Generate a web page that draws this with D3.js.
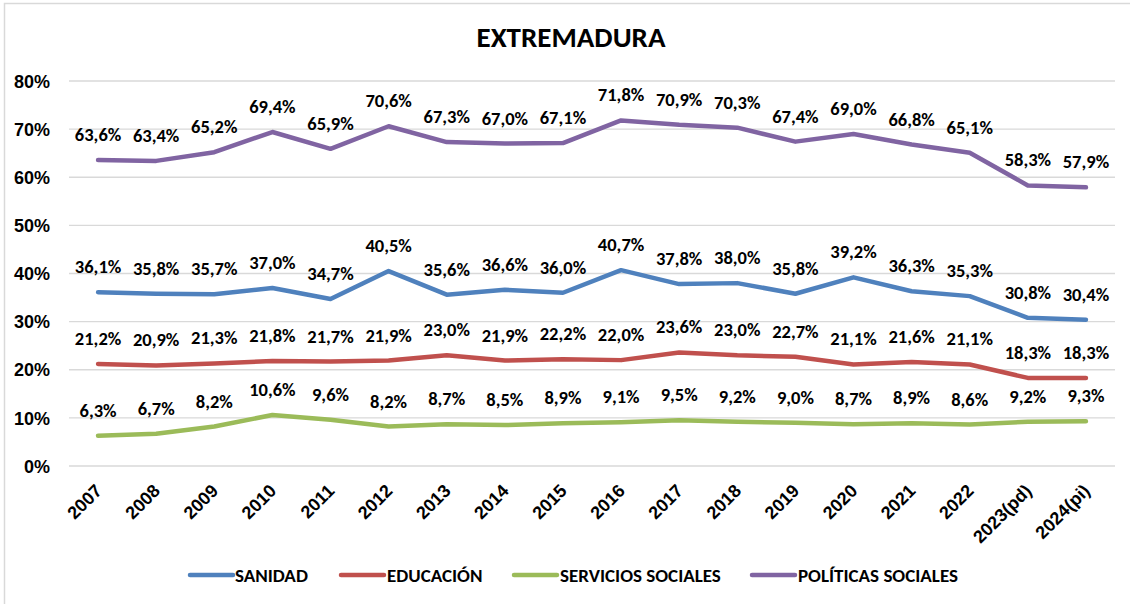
<!DOCTYPE html>
<html>
<head>
<meta charset="utf-8">
<script src="https://cdn.jsdelivr.net/npm/d3@7"></script>
<style>
  html, body { margin: 0; padding: 0; background: #fff; }
  svg { display: block; font-family: Carlito, Lato, "Open Sans", sans-serif; font-weight: bold; }
</style>
</head>
<body>
<svg id="chart" width="1130" height="604"></svg>
<script>
// Gasto social en Extremadura: porcentaje por área
const years = ["2007","2008","2009","2010","2011","2012","2013","2014","2015","2016","2017","2018","2019","2020","2021","2022","2023(pd)","2024(pi)"];
const sanidad = [36.1,35.8,35.7,37.0,34.7,40.5,35.6,36.6,36.0,40.7,37.8,38.0,35.8,39.2,36.3,35.3,30.8,30.4];
const educacion = [21.2,20.9,21.3,21.8,21.7,21.9,23.0,21.9,22.2,22.0,23.6,23.0,22.7,21.1,21.6,21.1,18.3,18.3];
const serviciosSociales = [6.3,6.7,8.2,10.6,9.6,8.2,8.7,8.5,8.9,9.1,9.5,9.2,9.0,8.7,8.9,8.6,9.2,9.3];
const politicasSociales = [63.6,63.4,65.2,69.4,65.9,70.6,67.3,67.0,67.1,71.8,70.9,70.3,67.4,69.0,66.8,65.1,58.3,57.9];
const yTicks = [0,10,20,30,40,50,60,70,80];
const seriesNames = ["SANIDAD","EDUCACIÓN","SERVICIOS SOCIALES","POLÍTICAS SOCIALES"];
const seriesColors = ["#4F81BD","#C0504D","#9BBB59","#8064A2"];

const series = [sanidad, educacion, serviciosSociales, politicasSociales].map((values, i) => ({
  name: seriesNames[i], color: seriesColors[i], values
}));

const svg = d3.select("#chart");
const plot = { left: 69, right: 1115, top: 81, bottom: 466 };

// chart frame
svg.append("rect").attr("x", 4.5).attr("y", 3.5).attr("width", 1140).attr("height", 620)
  .attr("fill", "#fff").attr("stroke", "#d9d9d9").attr("stroke-width", 1.5);

svg.append("text").attr("x", 571).attr("y", 47).attr("text-anchor", "middle")
  .attr("font-size", 29).attr("fill", "#000").text("EXTREMADURA");

const x = d3.scaleBand().domain(years).range([plot.left, plot.right]);
const y = d3.scaleLinear().domain([0, 80]).range([plot.bottom, plot.top]);
const cx = d => x(d) + x.bandwidth() / 2;
const fmt = v => v.toFixed(1).replace(".", ",") + "%";

// horizontal gridlines
svg.append("g").selectAll("line").data(yTicks).join("line")
  .attr("x1", plot.left).attr("x2", plot.right)
  .attr("y1", d => y(d)).attr("y2", d => y(d))
  .attr("stroke", "#d9d9d9").attr("stroke-width", 1.3);

// y axis labels
const yAxis = d3.axisLeft(y).tickValues(yTicks).tickFormat(d => d + "%").tickSize(0).tickPadding(0);
svg.append("g").attr("transform", `translate(${plot.left - 19},0)`).call(yAxis)
  .call(g => g.select(".domain").remove())
  .call(g => g.selectAll("text").attr("font-size", 18).attr("font-family", null).attr("fill", "#000").attr("dy", "0.34em"));

// x axis labels, rotated
const xAxis = d3.axisBottom(x).tickSize(0).tickPadding(0);
svg.append("g").attr("transform", `translate(0,${plot.bottom})`).call(xAxis)
  .call(g => g.select(".domain").remove())
  .call(g => g.selectAll("text")
    .attr("font-size", 18).attr("font-family", null).attr("fill", "#000")
    .attr("text-anchor", "end").attr("dy", 0).attr("y", 0)
    .attr("transform", "translate(5,26) rotate(-45)"));

// lines
const line = d3.line().x((d, i) => cx(years[i])).y(d => y(d));
svg.append("g").selectAll("path").data(series).join("path")
  .attr("d", s => line(s.values))
  .attr("fill", "none").attr("stroke", s => s.color).attr("stroke-width", 4.5)
  .attr("stroke-linejoin", "round").attr("stroke-linecap", "round");

// data labels
series.forEach(s => {
  svg.append("g").selectAll("text").data(s.values).join("text")
    .attr("x", (d, i) => cx(years[i]))
    .attr("y", d => y(d) - 19)
    .attr("text-anchor", "middle").attr("font-size", 18.5).attr("fill", "#000")
    .text(fmt);
});

// legend
const legendItems = [
  { x: 190, textX: 235 },
  { x: 341, textX: 387 },
  { x: 514, textX: 560 },
  { x: 752, textX: 798 }
];
const legend = svg.append("g");
series.forEach((s, i) => {
  const it = legendItems[i];
  legend.append("line").attr("x1", it.x).attr("x2", it.x + 43).attr("y1", 575).attr("y2", 575)
    .attr("stroke", s.color).attr("stroke-width", 4.5).attr("stroke-linecap", "round");
  legend.append("text").attr("x", it.textX).attr("y", 582).attr("font-size", 19).attr("fill", "#000").text(s.name);
});
</script>
</body>
</html>
